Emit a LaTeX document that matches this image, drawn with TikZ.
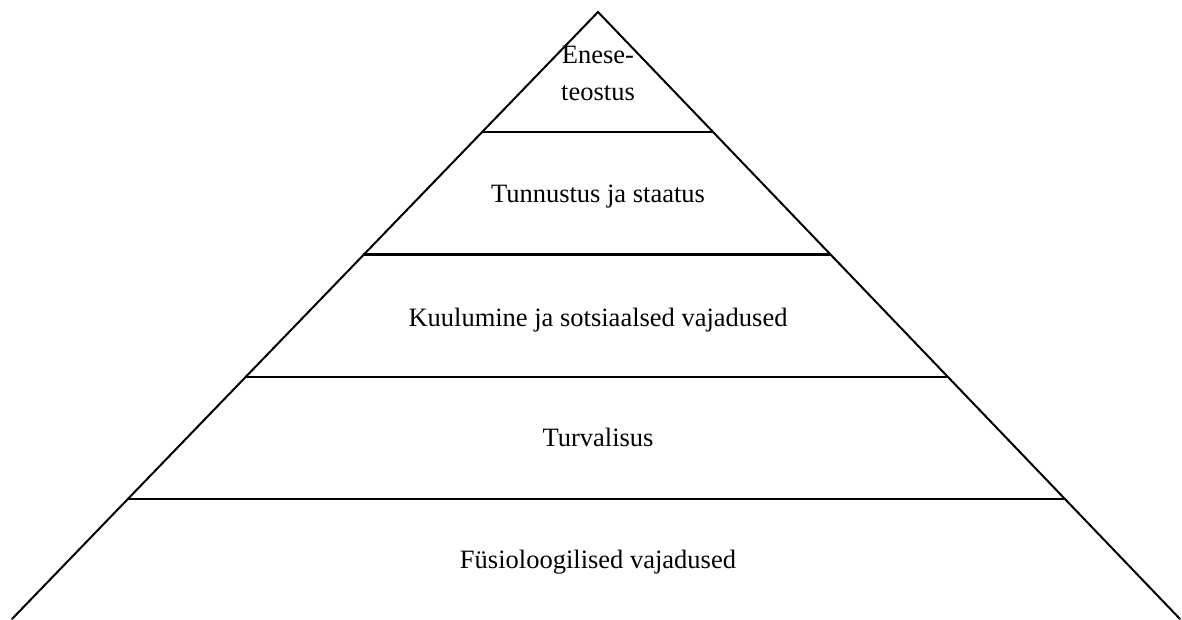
\documentclass[tikz,border=0pt]{standalone}
\usepackage{fontspec}
\setmainfont{Liberation Serif}
\usetikzlibrary{calc}
\begin{document}
\begin{tikzpicture}[x=1pt,y=-1pt,
  edge/.style={line width=2pt, line cap=round},
  level/.style={line width=2pt},
  label/.style={anchor=base, inner sep=0pt, font=\fontsize{26.5pt}{37pt}\selectfont}]
\useasboundingbox (0,0) rectangle (1182,619);
\coordinate (apex) at (598,12);
\coordinate (bl) at (12,619);
\coordinate (br) at (1180,619);
\draw[edge] (bl) -- (apex) -- (br);
\coordinate (l1) at ($(apex)!0.1977!(bl)$);
\coordinate (r1) at ($(apex)!0.1977!(br)$);
\coordinate (l2) at ($(apex)!0.4003!(bl)$);
\coordinate (r2) at ($(apex)!0.4003!(br)$);
\coordinate (l3) at ($(apex)!0.6013!(bl)$);
\coordinate (r3) at ($(apex)!0.6013!(br)$);
\coordinate (l4) at ($(apex)!0.8023!(bl)$);
\coordinate (r4) at ($(apex)!0.8023!(br)$);
\draw[level] (l1) -- (r1);
\draw[level, line width=3pt] (l2) -- (r2);
\draw[level] (l3) -- (r3);
\draw[level] (l4) -- (r4);
\node[label] (t1a) at (598,63.3) {Enese-};
\node[label] (t1b) at (598,100.7) {teostus};
\node[label] (t2) at (598,202) {Tunnustus ja staatus};
\node[label] (t3) at (598,326.7) {Kuulumine ja sotsiaalsed vajadused};
\node[label] (t4) at (598,446.7) {Turvalisus};
\node[label] (t5) at (598,568) {Füsioloogilised vajadused};
\end{tikzpicture}
\end{document}
